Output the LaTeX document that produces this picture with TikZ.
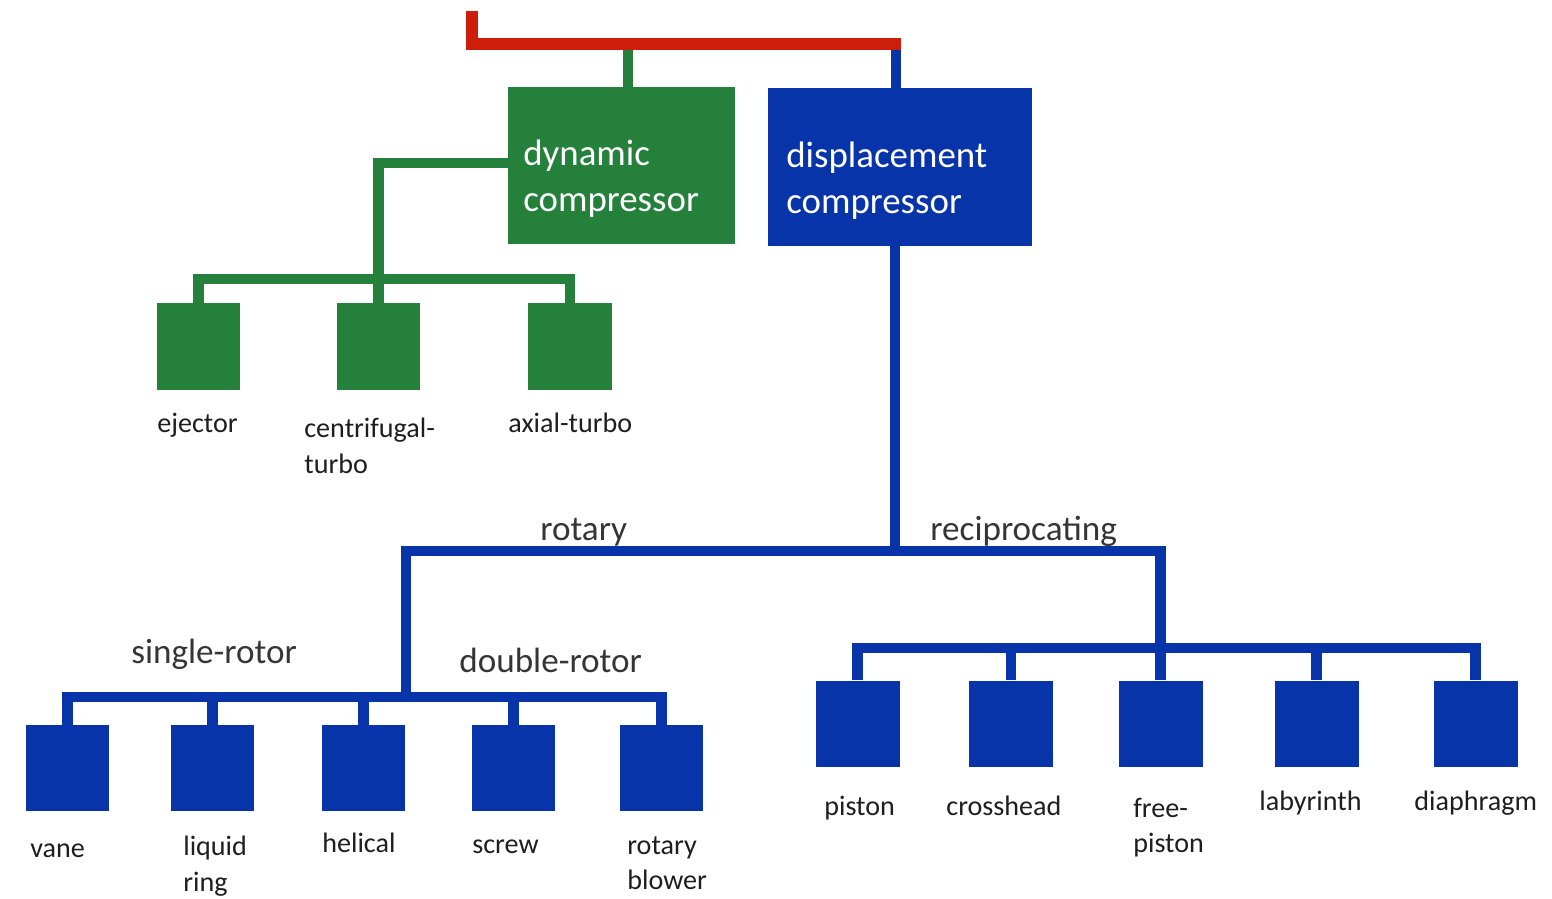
\documentclass[tikz,border=0pt]{standalone}
\usepackage{fontspec}
\setmainfont{Carlito}
\definecolor{gr}{RGB}{36,128,58}
\definecolor{bl}{RGB}{8,52,170}
\definecolor{rd}{RGB}{204,30,10}
\definecolor{txt}{RGB}{30,30,30}
\begin{document}
\begin{tikzpicture}[x=0.02cm,y=-0.02cm,
  gbox/.style={fill=gr, draw=none, inner sep=0, minimum width=1.68cm, minimum height=1.74cm},
  bbox/.style={fill=bl, draw=none, inner sep=0, minimum width=1.68cm, minimum height=1.72cm},
  gline/.style={draw=gr, line width=0.21cm},
  bline/.style={draw=bl, line width=0.21cm},
  rline/.style={draw=rd, line width=0.24cm},
  lbl/.style={font=\fontsize{16}{20}\selectfont, text=txt, inner sep=0, align=left},
  brl/.style={font=\fontsize{20}{26}\selectfont, text=txt!90, inner sep=0},
  bigt/.style={font=\fontsize{21}{26}\selectfont, text=white, inner sep=0, align=left}]
\useasboundingbox (0,0) rectangle (1552,899);

% main boxes
\node[fill=gr, inner sep=0, minimum width=4.54cm, minimum height=3.14cm] (dyn) at (621.5,165.5) {};
\node[fill=bl, inner sep=0, minimum width=5.28cm, minimum height=3.16cm] (disp) at (900,167) {};
\node[bigt, anchor=north west] (dynt) at (523,140) {dynamic\\compressor};
\node[bigt, anchor=north west] (dispt) at (786,142) {displacement\\compressor};

% green sub boxes
\node[gbox] (ej) at (198.5,346.5) {};
\node[gbox] (cen) at (378.5,346.5) {};
\node[gbox] (ax) at (570,346.5) {};

% rotary boxes
\node[bbox] (vane) at (67.5,768) {};
\node[bbox] (liq) at (212.5,768) {};
\node[bbox] (hel) at (363.5,768) {};
\node[bbox] (scr) at (513.5,768) {};
\node[bbox] (blow) at (661.5,768) {};

% reciprocating boxes
\node[bbox] (pist) at (857.5,723.5) {};
\node[bbox] (cross) at (1011,723.5) {};
\node[bbox] (free) at (1160.5,723.5) {};
\node[bbox] (lab) at (1316.5,723.5) {};
\node[bbox] (dia) at (1475.5,723.5) {};

% junction coordinates
\coordinate (top) at (472,11);
\coordinate (rj) at (472,44);
\coordinate (gj) at (628,44);
\coordinate (bj) at (896,44);
\coordinate (rend) at (901,44);
\coordinate (gb) at (380,163);
\coordinate (gbus) at (380,279);
\coordinate (dj) at (895,551);
\coordinate (rbus) at (406,697);
\coordinate (pbus) at (1162,648);

% green connectors
\draw[gline] (gj) -- (gj |- dyn.north);
\draw[gline] (dyn.west |- gb) -| (cen.north);
\draw[gline] (ej.north) |- (ax.north |- gbus) -- (ax.north);

% blue connectors
\draw[bline] (bj) -- (bj |- disp.north);
\draw[bline] (dj |- disp.south) -- (dj);
\draw[bline] (rbus) |- (dj) -| (free.north);
\draw[bline] (vane.north) |- (blow.north |- rbus) -- (blow.north);
\foreach \n in {liq,hel,scr} \draw[bline] (\n.north) -- (\n.north |- rbus);
\draw[bline] (pist.north) |- (dia.north |- pbus) -- (dia.north);
\foreach \n in {cross,lab} \draw[bline] (\n.north) -- (\n.north |- pbus);

% red connector
\draw[rline] (top) -- (rj) -- (rend);

% branch labels
\node[brl, anchor=base west] (lrot) at (540,540) {rotary};
\node[brl, anchor=base west] (lrec) at (930,540) {reciprocating};
\node[brl, anchor=base west] (lsin) at (131,663) {single-rotor};
\node[brl, anchor=base west] (ldou) at (459,672) {double-rotor};

% box labels
\node[lbl, anchor=base west] (lej) at (157,432) {ejector};
\node[lbl, anchor=north west] (lcen) at (304,418) {centrifugal-\\turbo};
\node[lbl, anchor=base west] (lax) at (508,432) {axial-turbo};

\node[lbl, anchor=base west] (lvane) at (30,857) {vane};
\node[lbl, anchor=north west] (lliq) at (183,836) {liquid\\ring};
\node[lbl, anchor=base west] (lhel) at (322,852) {helical};
\node[lbl, anchor=base west] (lscr) at (472,853) {screw};
\node[lbl, anchor=north west] (lblow) at (627,836) {rotary\\blower};

\node[lbl, anchor=base west] (lpist) at (824,815) {piston};
\node[lbl, anchor=base west] (lcross) at (946,815) {crosshead};
\node[lbl, anchor=north west] (lfree) at (1133,798) {free-\\piston};
\node[lbl, anchor=base west] (llab) at (1259,810) {labyrinth};
\node[lbl, anchor=base west] (ldia) at (1414,810) {diaphragm};
\end{tikzpicture}
\end{document}
